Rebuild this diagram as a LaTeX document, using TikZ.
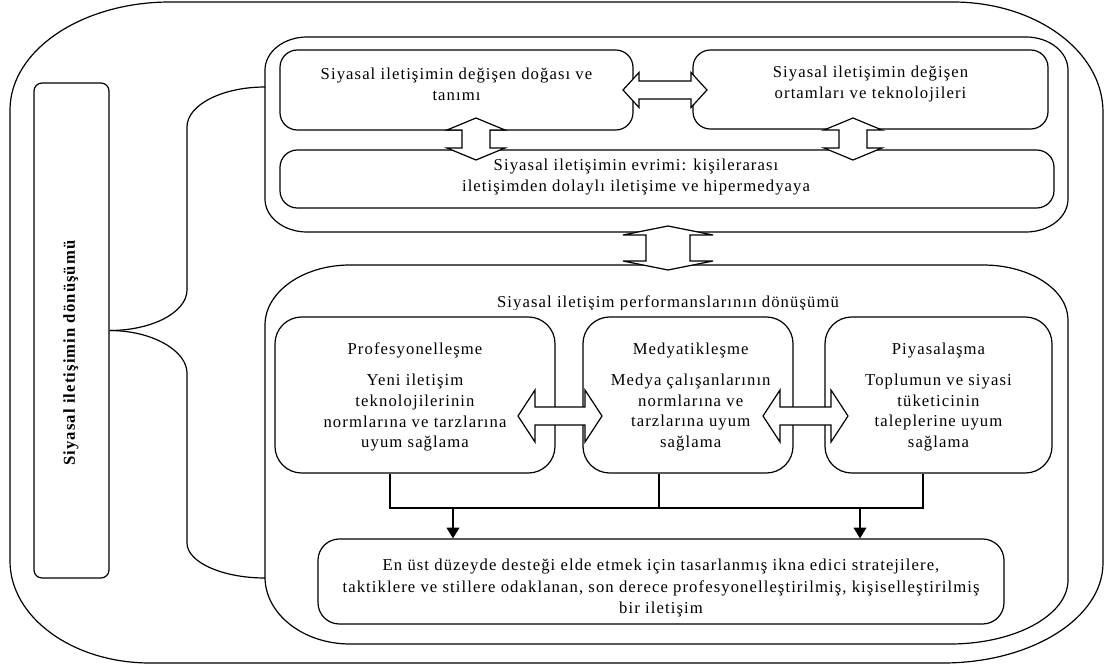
\documentclass[tikz,border=0pt]{standalone}
\usepackage{fontspec}
\setmainfont{Liberation Serif}[LetterSpace=6.5]
\usetikzlibrary{calc,fit,arrows.meta}

% horizontal double block arrow: centre, half length, head length, shaft half width, head half width
\newcommand{\hdarrow}[5]{%
  \draw[blk] (#1) ++(-#2,0) -- ++(#3,-#5) -- ++(0,{#5-#4}) -- ++({2*#2-2*#3},0)
    -- ++(0,{#4-#5}) -- ++(#3,#5) -- ++(-#3,#5) -- ++(0,{#4-#5})
    -- ++({2*#3-2*#2},0) -- ++(0,{#5-#4}) -- cycle;}
% vertical double block arrow, same arguments
\newcommand{\vdarrow}[5]{%
  \draw[blk] (#1) ++(0,-#2) -- ++(#5,#3) -- ++({#4-#5},0) -- ++(0,{2*#2-2*#3})
    -- ++({#5-#4},0) -- ++(-#5,#3) -- ++(-#5,-#3) -- ++({#5-#4},0)
    -- ++(0,{2*#3-2*#2}) -- ++({#4-#5},0) -- cycle;}

\tikzset{
  txt/.style={font=\fontsize{12.5}{15.5}\selectfont, align=center, inner sep=0pt},
  rbox/.style={draw, line width=0.9pt, rounded corners=13pt, inner sep=0pt, txt},
  pbox/.style={rbox, rounded corners=20pt},
  outline/.style={draw, line width=0.9pt},
  conn/.style={line width=0.9pt},
  blk/.style={draw, line width=0.9pt, fill=white, line join=miter},
  tip/.style={-{Triangle[length=8pt,width=9.5pt]}}
}

\begin{document}
\begin{tikzpicture}[x=0.75pt,y=-0.75pt]
\useasboundingbox (0,0) rectangle (1104,667);
\fill[white] (0,0) rectangle (1104,667);

% outer frame
\path[outline] (10,110) .. controls (10,50.4) and (81.7,2) .. (170,2)
  -- (953,2) .. controls (1035.8,2) and (1103,51.3) .. (1103,112)
  -- (1103,563) .. controls (1103,618.2) and (1031.3,663) .. (943,663)
  -- (150,663) .. controls (72.7,663) and (10,617.3) .. (10,561) -- cycle;

% upper group frame
\path[outline] (265,70) .. controls (265,51.8) and (283.8,37) .. (307,37)
  -- (1026,37) .. controls (1049.2,37) and (1068,51.8) .. (1068,70)
  -- (1068,199) .. controls (1068,217.2) and (1049.2,232) .. (1026,232)
  -- (307,232) .. controls (283.8,232) and (265,217.2) .. (265,199) -- cycle;

% lower group frame
\path[outline] (265,325) .. controls (265,291.9) and (303.1,265) .. (350,265)
  -- (983,265) .. controls (1029.9,265) and (1068,289.6) .. (1068,320)
  -- (1068,580) .. controls (1068,615.3) and (1015.1,644) .. (950,644)
  -- (350,644) .. controls (303.1,644) and (265,614) .. (265,577) -- cycle;

\coordinate (tgin) at (265,87);
\coordinate (bgin) at (265,578);

% left label box
\node[rbox, rounded corners=6pt, fit={(34,83) (109,578)}] (lbox) {};
\node[txt, font=\fontsize{12.5}{15}\selectfont\bfseries, rotate=90] (ltext) at (71,353)
  {Siyasal iletişimin dönüşümü};

% upper group boxes
\node[rbox, fit={(280,50) (633,130)}] (nat)
  {Siyasal iletişimin değişen doğası ve\\ tanımı};
\node[rbox, fit={(693,50) (1048,129)}] (env)
  {Siyasal iletişimin değişen\\ ortamları ve teknolojileri};
\node[rbox, fit={(280,150) (1054,208)}] (evo) {};

% lower group boxes
\node[pbox, fit={(275,317) (555,473)}] (prof) {};
\node[pbox, fit={(583,317) (793,473)}] (med) {};
\node[pbox, fit={(825,317) (1052,473)}] (piy) {};
\node[rbox, rounded corners=16pt, fit={(318,539) (1004,624)}] (fin) {};

\node[txt, yshift=-1.5pt] (proft) at (prof)
  {Profesyonelleşme\\[8pt] Yeni iletişim\\ teknolojilerinin\\ normlarına ve tarzlarına\\ uyum sağlama};
\node[txt, yshift=-1.5pt, xshift=2pt] (medt) at (med)
  {Medyatikleşme\\[8pt] Medya çalışanlarının\\ normlarına ve\\ tarzlarına uyum\\ sağlama};
\node[txt, yshift=-1.5pt] (piyt) at (piy)
  {Piyasalaşma\\[8pt] Toplumun ve siyasi\\ tüketicinin\\ taleplerine uyum\\ sağlama};
\node[txt, font=\fontsize{12.5}{16.2}\selectfont, yshift=-5pt] (fint) at (fin)
  {En üst düzeyde desteği elde etmek için tasarlanmış ikna edici stratejilere,\\
   taktiklere ve stillere odaklanan, son derece profesyonelleştirilmiş, kişiselleştirilmiş\\
   bir iletişim};

% brace-like links from the label box
\draw[conn] (lbox.east) .. controls +(43,0) and +(0,22) .. (187,290)
  -- (187,127) .. controls +(0,-22) and +(-43,0) .. (tgin);
\draw[conn] (lbox.east) .. controls +(43,0) and +(0,-22) .. (187,373)
  -- (187,543) .. controls +(0,19) and +(-43,0) .. (bgin);

% bus joining the three lower boxes
\coordinate (busL) at (390,508);
\coordinate (busM) at (659,508);
\coordinate (busR) at (923,508);
\coordinate (drop1) at (453,508);
\coordinate (drop2) at (860,508);
\draw[conn] (prof.south -| busL) -- (busL) -- (busR) -- (piy.south -| busR);
\draw[conn] (med.south -| busM) -- (busM);
\draw[conn, tip] (drop1) -- (fin.north -| drop1);
\draw[conn, tip] (drop2) -- (fin.north -| drop2);

% double block arrows
\coordinate (a1) at (665,90);
\coordinate (a2) at (476,139);
\coordinate (a3) at (853,139);
\coordinate (a4) at (668,248);
\coordinate (a5) at (560,416);
\coordinate (a6) at (805.5,416);
\hdarrow{a1}{42}{16}{9}{17.5}
\vdarrow{a2}{21}{12}{14}{29}
\vdarrow{a3}{21}{12}{14}{29}
\vdarrow{a4}{22}{9}{22}{45}
\hdarrow{a5}{42}{17}{9}{26}
\hdarrow{a6}{42.5}{17}{9}{26}

% texts laid over the frames
\node[txt] (evotext) at (636,177)
  {Siyasal iletişimin evrimi: kişilerarası\\ iletişimden dolaylı iletişime ve hipermedyaya};
\begin{scope}
  \clip (400,280) rectangle (940,309);
  \node[txt, anchor=base] (perf) at (668,307) {Siyasal iletişim performanslarının dönüşümü};
\end{scope}
\end{tikzpicture}
\end{document}
